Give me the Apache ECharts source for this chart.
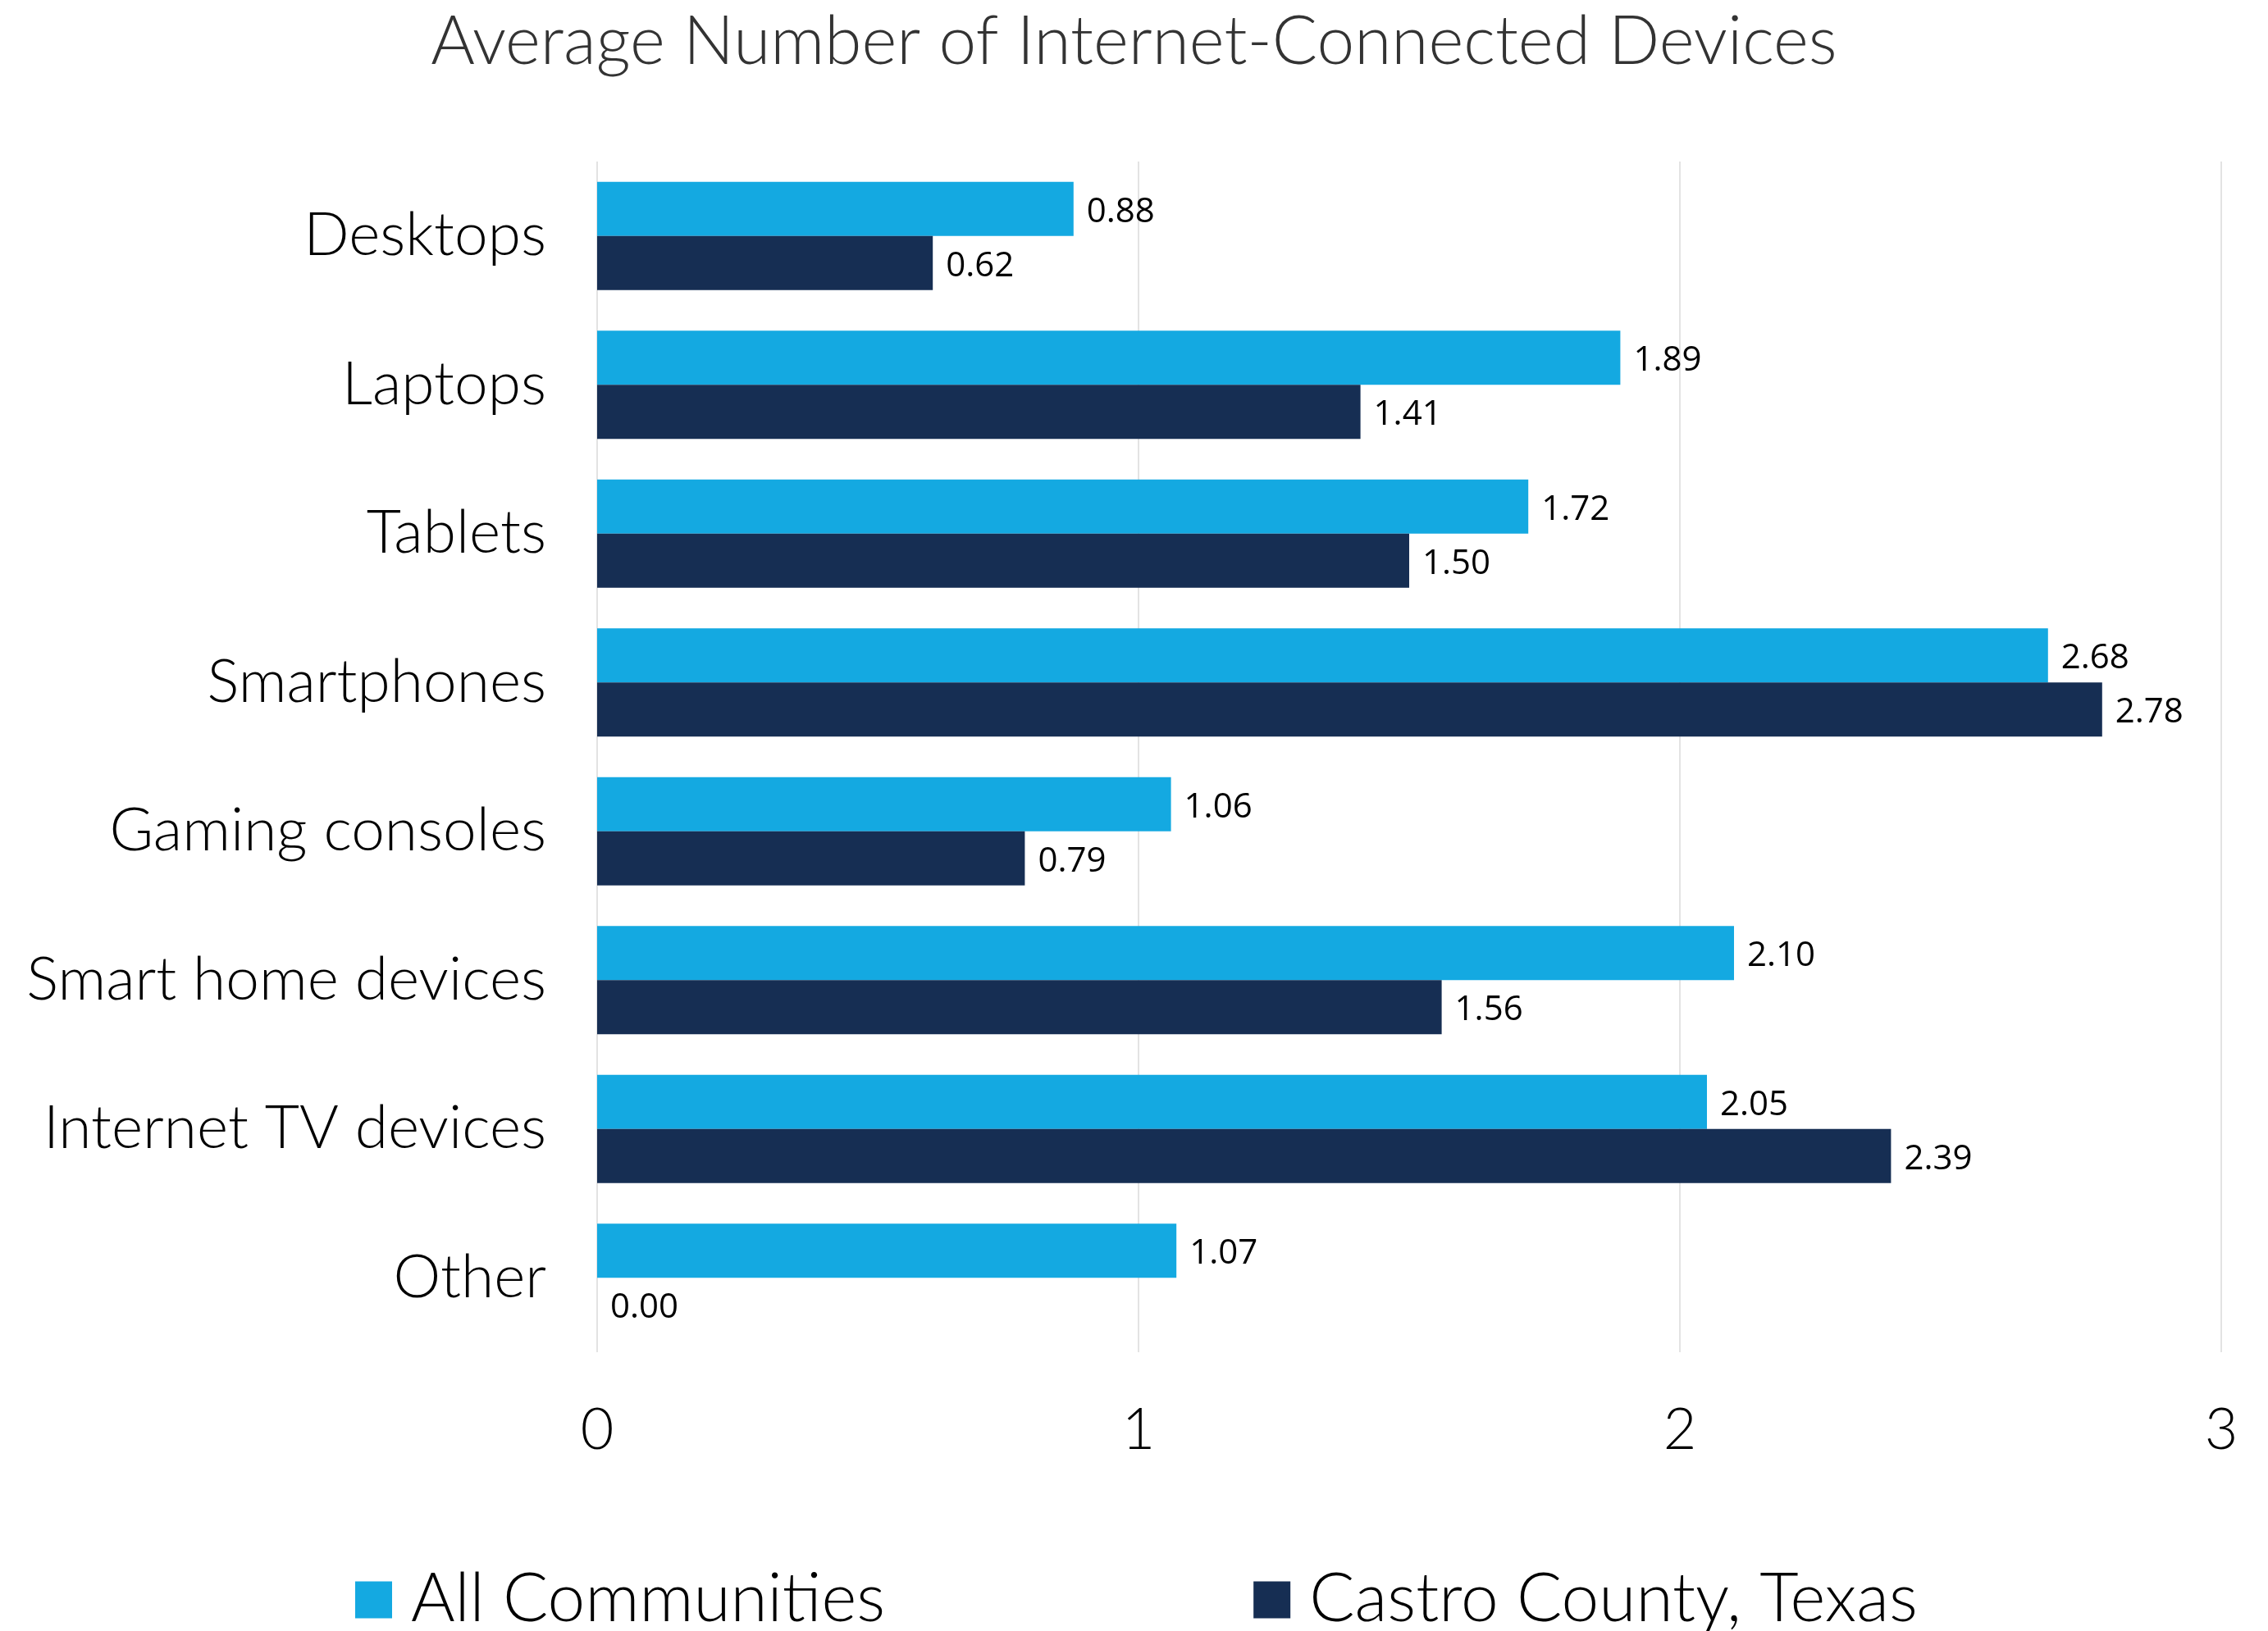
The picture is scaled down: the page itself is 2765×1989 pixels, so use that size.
<!DOCTYPE html>
<html>
<head>
<meta charset="utf-8">
<script src="https://cdn.jsdelivr.net/npm/echarts@6/dist/echarts.min.js"></script>
<style>
  html, body { margin: 0; padding: 0; background: #ffffff; }
  #chart { width: 2765px; height: 1989px; }
</style>
</head>
<body>
<div id="chart"></div>
<script>
// Device categories, top to bottom
const categories = [
  'Desktops', 'Laptops', 'Tablets', 'Smartphones',
  'Gaming consoles', 'Smart home devices', 'Internet TV devices', 'Other'
];
// Average devices per household
const allCommunities = [0.88, 1.89, 1.72, 2.68, 1.06, 2.10, 2.05, 1.07];
const castroCounty   = [0.62, 1.41, 1.50, 2.78, 0.79, 1.56, 2.39, 0.00];
const seriesNames = ['All Communities', 'Castro County, Texas'];
const axisTicks = [0, 1, 2, 3];

const chart = echarts.init(document.getElementById('chart'), null, { renderer: 'canvas' });

const labelStyle = {
  show: true,
  position: 'right',
  distance: 16,
  offset: [0, 4],
  fontFamily: 'Open Sans',
  fontSize: 42,
  color: '#000000',
  formatter: p => p.value.toFixed(2)
};

chart.setOption({
  backgroundColor: '#ffffff',
  animation: false,
  title: {
    text: 'Average Number of Internet-Connected Devices',
    left: 'center',
    top: 6,
    textStyle: {
      fontFamily: 'Lato',
      fontWeight: 300,
      fontSize: 82,
      color: '#333333'
    }
  },
  legend: {
    bottom: -8,
    left: 428,
    itemWidth: 45,
    itemHeight: 45,
    itemGap: 449,
    icon: 'rect',
    textStyle: {
      fontFamily: 'Lato',
      fontWeight: 300,
      fontSize: 82,
      color: '#000000',
      padding: [0, 0, 0, 18]
    },
    data: seriesNames
  },
  grid: {
    left: 728,
    right: 57,
    top: 197,
    bottom: 340,
    containLabel: false
  },
  xAxis: {
    type: 'value',
    min: axisTicks[0],
    max: axisTicks[axisTicks.length - 1],
    interval: 1,
    axisLine: { show: false },
    axisTick: { show: false },
    splitLine: { show: true, lineStyle: { color: '#e3e3e3', width: 2 } },
    axisLabel: {
      margin: 60,
      fontFamily: 'Lato',
      fontWeight: 300,
      fontSize: 70,
      color: '#000000'
    }
  },
  yAxis: {
    type: 'category',
    inverse: true,
    data: categories,
    axisLine: { show: false },
    axisTick: { show: false },
    axisLabel: {
      margin: 62,
      fontFamily: 'Lato',
      fontWeight: 300,
      fontSize: 73,
      color: '#000000'
    }
  },
  series: [
    {
      name: seriesNames[0],
      type: 'bar',
      data: allCommunities,
      barWidth: 66,
      barGap: '0%',
      itemStyle: { color: '#14A9E1' },
      label: labelStyle
    },
    {
      name: seriesNames[1],
      type: 'bar',
      data: castroCounty,
      barWidth: 66,
      barGap: '0%',
      itemStyle: { color: '#162E53' },
      label: labelStyle
    }
  ]
});
</script>
</body>
</html>
